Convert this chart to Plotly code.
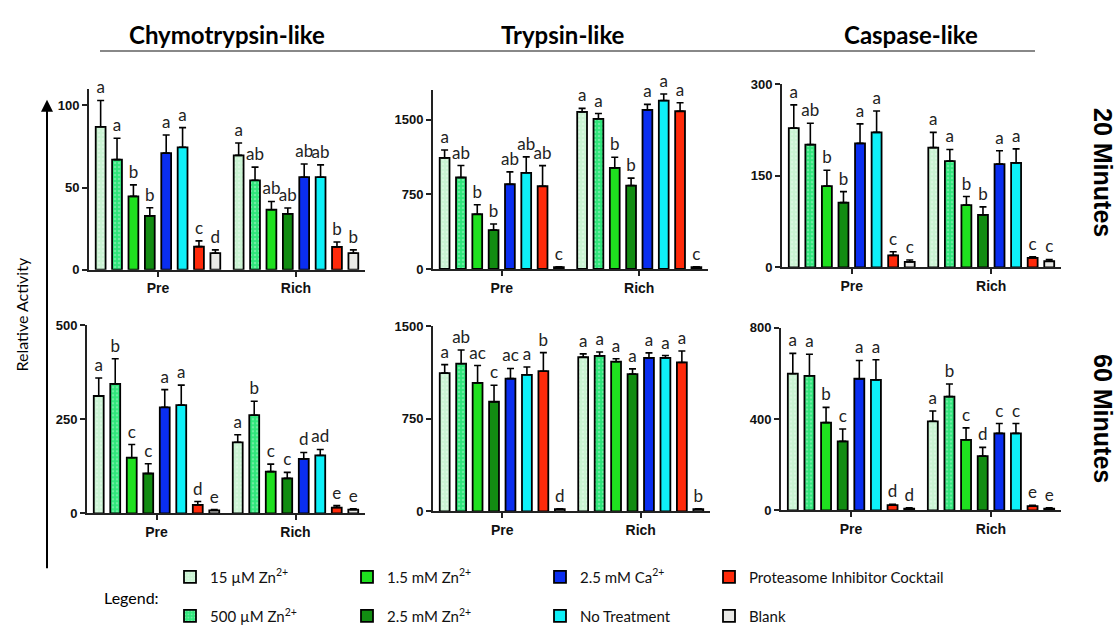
import plotly.graph_objects as go

W, H = 1118, 633

categories = ["Pre", "Rich"]
treatments = ["15 µM Zn<sup>2+</sup>", "500 µM Zn<sup>2+</sup>", "1.5 mM Zn<sup>2+</sup>",
              "2.5 mM Zn<sup>2+</sup>", "2.5 mM Ca<sup>2+</sup>", "No Treatment",
              "Proteasome Inhibitor Cocktail", "Blank"]
colors = ["#c9f3d2", "#2ee57a", "#1fe01f", "#128c12", "#0a2ef0", "#0ef0f8", "#ff2a0a", "#e9e9e6"]
patterned = [True, True, False, False, False, False, False, False]

# Chymotrypsin-like, 20 min
ct20_pre = [87, 67, 44.6, 32.7, 71, 74.5, 14, 10]
ct20_pre_err = [16, 13, 7, 5, 11, 12, 3.5, 2]
ct20_rich = [69.6, 54.4, 36.5, 34, 56.3, 56.3, 13.8, 10]
ct20_rich_err = [7.5, 8, 5, 3.5, 8, 7.5, 3, 2]
ct20_pre_let = ["a", "a", "b", "b", "a", "a", "c", "d"]
ct20_rich_let = ["a", "ab", "ab", "ab", "ab", "ab", "b", "b"]

# Trypsin-like, 20 min
tr20_pre = [1117, 920, 550, 390, 852, 967, 832, 18]
tr20_pre_err = [80, 120, 95, 62, 124, 160, 207, 4]
tr20_rich = [1579, 1510, 1016, 839, 1599, 1694, 1586, 18]
tr20_rich_err = [36, 53, 108, 75, 56, 66, 86, 4]
tr20_pre_let = ["a", "ab", "b", "b", "ab", "ab", "ab", "c"]
tr20_rich_let = ["a", "a", "b", "b", "a", "a", "a", "c"]

# Caspase-like, 20 min
cs20_pre = [228, 201, 133, 106, 203, 221, 19.7, 9]
cs20_pre_err = [38, 35, 26, 18, 32, 35, 6, 3]
cs20_rich = [196, 174, 102, 86, 169, 171, 15.5, 10]
cs20_rich_err = [25, 19, 14, 13, 22, 23, 2, 3]
cs20_pre_let = ["a", "ab", "b", "b", "a", "a", "c", "c"]
cs20_rich_let = ["a", "a", "b", "b", "a", "a", "c", "c"]

# Chymotrypsin-like, 60 min
ct60_pre = [312, 344, 148, 106, 282, 288, 22.5, 8]
ct60_pre_err = [48, 67, 35, 26, 47, 53, 9, 2]
ct60_rich = [189, 261, 111, 93, 145, 154, 15.6, 10]
ct60_rich_err = [20, 37, 20, 16, 17, 16, 5, 2]
ct60_pre_let = ["a", "b", "c", "c", "a", "a", "d", "e"]
ct60_rich_let = ["a", "b", "c", "c", "d", "ad", "e", "e"]

# Trypsin-like, 60 min
tr60_pre = [1119, 1195, 1040, 887, 1074, 1105, 1134, 18]
tr60_pre_err = [68, 110, 140, 134, 82, 63, 150, 4]
tr60_rich = [1247, 1258, 1211, 1111, 1242, 1242, 1205, 18]
tr60_rich_err = [27, 32, 24, 42, 40, 19, 93, 4]
tr60_pre_let = ["a", "ab", "ac", "c", "ac", "a", "b", "d"]
tr60_rich_let = ["a", "a", "a", "a", "a", "a", "a", "b"]

# Caspase-like, 60 min
cs60_pre = [598, 589, 384, 302, 576, 571, 23, 8.5]
cs60_pre_err = [89, 94, 67, 54, 80, 88, 4, 3]
cs60_rich = [390, 498, 309, 238, 337, 337, 19, 8.5]
cs60_rich_err = [45, 55, 52, 38, 43, 43, 4, 3]
cs60_pre_let = ["a", "a", "b", "c", "a", "a", "d", "d"]
cs60_rich_let = ["a", "b", "c", "d", "c", "c", "e", "e"]

y_max = [110, 1800, 300, 500, 1500, 800]
y_ticks = [[0, 50, 100], [0, 750, 1500], [0, 150, 300], [0, 250, 500], [0, 750, 1500], [0, 400, 800]]

panels = [
    (ct20_pre, ct20_pre_err, ct20_rich, ct20_rich_err, ct20_pre_let, ct20_rich_let),
    (tr20_pre, tr20_pre_err, tr20_rich, tr20_rich_err, tr20_pre_let, tr20_rich_let),
    (cs20_pre, cs20_pre_err, cs20_rich, cs20_rich_err, cs20_pre_let, cs20_rich_let),
    (ct60_pre, ct60_pre_err, ct60_rich, ct60_rich_err, ct60_pre_let, ct60_rich_let),
    (tr60_pre, tr60_pre_err, tr60_rich, tr60_rich_err, tr60_pre_let, tr60_rich_let),
    (cs60_pre, cs60_pre_err, cs60_rich, cs60_rich_err, cs60_pre_let, cs60_rich_let),
]

# plot-area boxes in pixels: (left, right, top, bottom)
boxes = [(89, 365, 84, 269), (433, 708, 85, 268.3), (782, 1061, 79, 266.7),
         (87, 365, 326, 518.7), (433, 710, 326.7, 516.7), (781, 1061, 328.3, 515.7)]

# legend entry positions (symbol left, row centre) in pixels
legend_cols = [183, 183, 360, 360, 553, 553, 722, 722]
legend_rows = [584, 624, 584, 624, 584, 624, 584, 624]

fig = go.Figure()
for p, (pre, pre_e, rich, rich_e, pre_l, rich_l) in enumerate(panels):
    n = p + 1
    xa, ya = f"x{n}", f"y{n}"
    for i, name in enumerate(treatments):
        pattern = dict(shape=".", fgcolor="rgba(255,255,255,0.6)", size=4, solidity=0.3) if patterned[i] else dict(shape="")
        fig.add_trace(go.Bar(
            x=categories, y=[pre[i], rich[i]], name=name,
            xaxis=xa, yaxis=ya, offsetgroup=str(i),
            marker=dict(color=colors[i], line=dict(color="black", width=1.8), pattern=pattern),
            error_y=dict(type="data", array=[pre_e[i], rich_e[i]], arrayminus=[0, 0], symmetric=False,
                         color="black", thickness=1.6, width=3.5),
            showlegend=(p == 0), legend=("legend" if i == 0 else f"legend{i + 1}"),
        ))
    for i, name in enumerate(treatments):
        fig.add_trace(go.Bar(
            x=categories, y=[pre[i] + pre_e[i], rich[i] + rich_e[i]],
            xaxis=xa, yaxis=ya, offsetgroup=str(i),
            marker=dict(color="rgba(0,0,0,0)", line=dict(width=0)),
            text=[pre_l[i], rich_l[i]], textposition="outside", constraintext="none",
            textfont=dict(family="Lato", size=17, color="#222"),
            outsidetextfont=dict(family="Lato", size=17, color="#222"),
            cliponaxis=False, showlegend=False, hoverinfo="skip",
        ))

layout = dict(
    width=W, height=H, margin=dict(l=0, r=0, t=0, b=0),
    paper_bgcolor="white", plot_bgcolor="white",
    barmode="group", bargap=0.05, bargroupgap=0.4,
    font=dict(family="Liberation Sans", color="black"),
)
for p, (l, r, t, b) in enumerate(boxes):
    n = p + 1
    layout[f"xaxis{n}"] = dict(
        domain=[l / W, r / W], anchor=f"y{n}", type="category", range=[-0.5, 1.5],
        showline=True, linecolor="#222", linewidth=2, ticks="outside", ticklen=5, tickwidth=2,
        tickcolor="#222", showgrid=False, zeroline=False,
        tickfont=dict(family="Liberation Sans", size=14, weight="bold", color="#111"),
    )
    layout[f"yaxis{n}"] = dict(
        domain=[1 - b / H, 1 - t / H], anchor=f"x{n}", range=[0, y_max[p]],
        tickvals=y_ticks[p], showline=True, linecolor="#222", linewidth=2, ticks="outside",
        ticklen=5, tickwidth=2, tickcolor="#222", showgrid=False, zeroline=False,
        tickfont=dict(family="Liberation Sans", size=13, weight="bold", color="#111"),
    )

for i in range(len(treatments)):
    key = "legend" if i == 0 else f"legend{i + 1}"
    layout[key] = dict(orientation="h", x=(legend_cols[i] - 13) / W, y=1 - legend_rows[i] / H,
                       xanchor="left", yanchor="middle", bgcolor="rgba(0,0,0,0)",
                       font=dict(family="Lato", size=15, color="#111"))

annotations = [
    dict(text="Chymotrypsin-like", x=227 / W, y=1 - 28 / H),
    dict(text="Trypsin-like", x=563 / W, y=1 - 28 / H),
    dict(text="Caspase-like", x=911 / W, y=1 - 28 / H),
]
for a in annotations:
    a.update(xref="paper", yref="paper", showarrow=False, xanchor="center", yanchor="middle",
             font=dict(family="Lato", size=24, weight="bold", color="black"))
annotations += [
    dict(text="20 Minutes", x=1103 / W, y=1 - 169 / H, textangle=90, xref="paper", yref="paper",
         xanchor="center", yanchor="middle", showarrow=False,
         font=dict(family="Liberation Sans", size=25, weight="bold", color="black")),
    dict(text="60 Minutes", x=1103 / W, y=1 - 421 / H, textangle=90, xref="paper", yref="paper",
         xanchor="center", yanchor="middle", showarrow=False,
         font=dict(family="Liberation Sans", size=25, weight="bold", color="black")),
    dict(text="Relative Activity", x=22 / W, y=1 - 315 / H, textangle=-90, xref="paper", yref="paper",
         xanchor="center", yanchor="middle", showarrow=False,
         font=dict(family="Lato", size=16, color="black")),
    dict(text="Legend:", x=131 / W, y=1 - 605 / H, xref="paper", yref="paper", showarrow=False,
         xanchor="center", yanchor="middle", font=dict(family="Lato", size=16, color="black")),
    dict(text="", x=47 / W, y=1 - 95 / H, xref="paper", yref="paper", showarrow=True,
         ax=0, ay=470, axref="pixel", ayref="pixel", arrowhead=2, arrowsize=1.2, arrowwidth=2,
         arrowcolor="black"),
]
layout["annotations"] = annotations
layout["shapes"] = [dict(type="line", xref="paper", yref="paper", x0=100 / W, x1=1035 / W,
                         y0=1 - 45 / H, y1=1 - 45 / H, line=dict(color="#888", width=2))]

fig.update_layout(**layout)
fig.write_html("out.html")
